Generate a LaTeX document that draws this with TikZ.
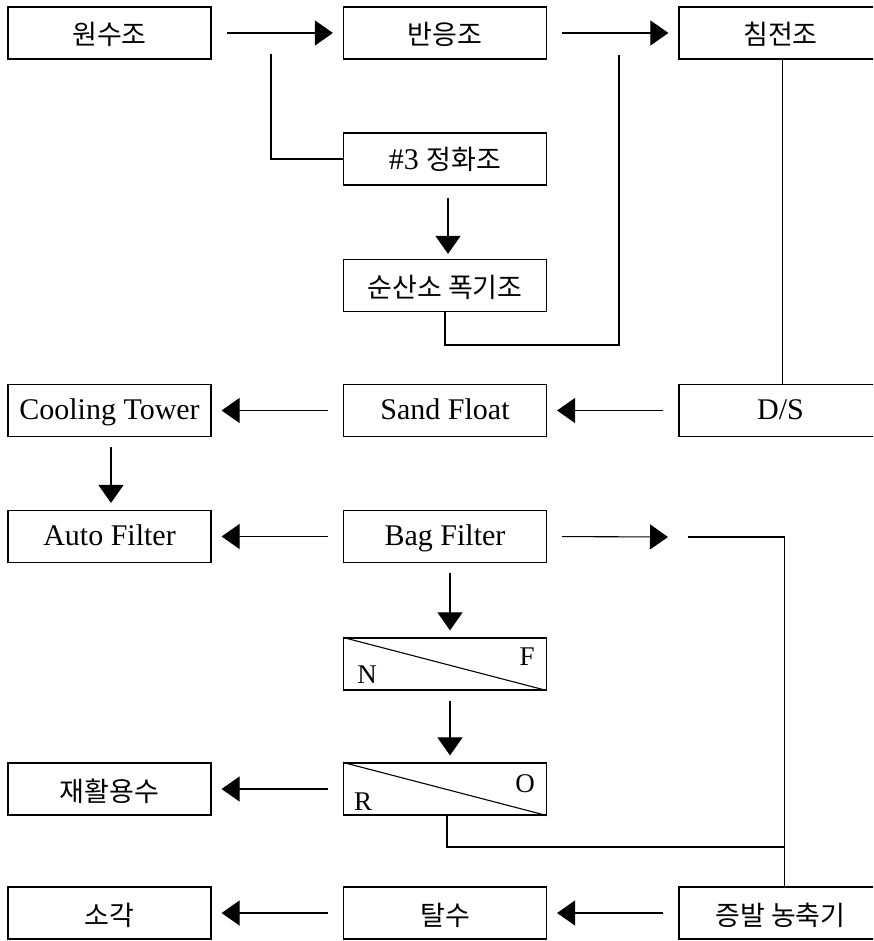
\documentclass[tikz,border=0pt]{standalone}
\usepackage{fontspec}
\setmainfont{Liberation Serif}
\newfontfamily\kr{Noto Sans CJK KR}
\usetikzlibrary{arrows.meta}
\begin{document}
\begin{tikzpicture}[x=1pt,y=-1pt,
  box/.style={draw, line width=1.2pt, minimum width=203pt, minimum height=52pt, inner sep=0pt,
    text height=22pt, text depth=4pt, font=\fontsize{30}{34}\selectfont},
  kbox/.style={box, text height=25pt, text depth=1pt, font=\kr\fontsize{27}{32}\selectfont},
  ln/.style={line width=1.1pt},
  arr/.style={line width=1.1pt, -{Triangle[length=18pt,width=25pt]}, shorten <=15pt, shorten >=10pt},
  varr/.style={line width=1.1pt, -{Triangle[length=18pt,width=25pt]}, shorten <=10pt, shorten >=7pt},
  lbl/.style={inner sep=0pt, font=\fontsize{27}{30}\selectfont}]
\clip (0,0) rectangle (873,941);
\fill[white] (0,0) rectangle (873,941);
% row 1
\node[kbox] (src) at (109.5,33) {원수조};
\node[kbox] (rea) at (445,33) {반응조};
\node[kbox] (sed) at (780.5,33) {침전조};
% middle column upper
\node[box, text height=24pt, text depth=2pt] (c3) at (445,159) {\#3 {\kr\fontsize{27}{32}\selectfont 정화조}};
\node[kbox] (aer) at (445,285.5) {순산소 폭기조};
% row 4
\node[box] (cool) at (109.5,410.5) {Cooling Tower};
\node[box] (sand) at (445,410.5) {Sand Float};
\node[box] (ds) at (780.5,410.5) {D/S};
% row 5
\node[box] (auto) at (109.5,536.5) {Auto Filter};
\node[box] (bag) at (445,536.5) {Bag Filter};
% membranes
\node[box] (nf) at (445,664) {};
\node[box] (ro) at (445,789) {};
\node[kbox] (reuse) at (109.5,789) {재활용수};
% bottom row
\node[kbox] (inc) at (109.5,913) {소각};
\node[kbox] (dew) at (445,913) {탈수};
\node[kbox] (evap) at (780.5,913) {증발 농축기};
% membrane diagonals and labels
\draw[ln] (nf.north west) -- (nf.south east);
\draw[ln] (ro.north west) -- (ro.south east);
\node[lbl] (lN) at (367,675) {N};
\node[lbl] (lF) at (527,657) {F};
\node[lbl] (lR) at (363,802) {R};
\node[lbl] (lO) at (525,784) {O};
% coordinates
\coordinate (b1) at (271,54);
\coordinate (r1) at (619,55);
\coordinate (r2) at (619,345);
\coordinate (bfend) at (668,537);
\coordinate (j1) at (688,537);
\coordinate (j2) at (784,847);
% connectors
\draw[arr] (src) -- (rea);
\draw[arr] (rea) -- (sed);
\draw[ln] (b1) |- (c3.west);
\draw[varr, shorten <=12pt, shorten >=5pt] ([xshift=3pt]c3.south) -- ([xshift=3pt]aer.north);
\draw[ln] (r1) -- (r2) -| (aer.south);
\draw[ln] ([xshift=2pt]sed.south) -- ([xshift=2pt]ds.north);
\draw[arr] (ds) -- (sand);
\draw[arr] (sand) -- (cool);
\draw[varr] ([xshift=1.5pt]cool.south) -- ([xshift=1.5pt]auto.north);
\draw[arr] (bag) -- (auto);
\draw[arr, shorten >=0pt] (bag.east) -- (bfend);
\draw[ln] (j1) -| ([xshift=4pt]evap.north);
\draw[varr] ([xshift=5pt]bag.south) -- ([xshift=5pt]nf.north);
\draw[varr] ([xshift=5pt]nf.south) -- ([xshift=5pt]ro.north);
\draw[arr] (ro) -- (reuse);
\draw[ln] ([xshift=2pt]ro.south) |- (j2);
\draw[arr] (evap) -- (dew);
\draw[arr] (dew) -- (inc);
\end{tikzpicture}
\end{document}
